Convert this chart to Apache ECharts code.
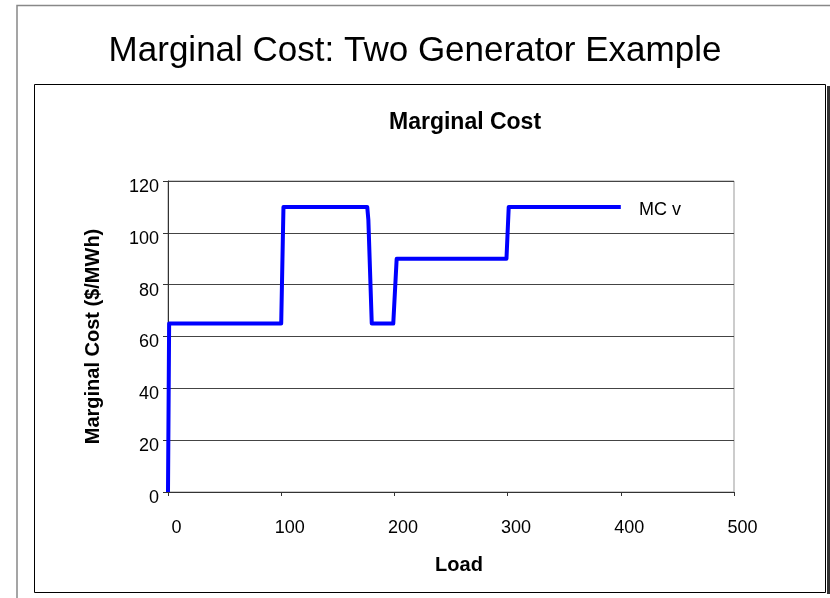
<!DOCTYPE html>
<html>
<head>
<meta charset="utf-8">
<script src="https://cdn.jsdelivr.net/npm/echarts@6/dist/echarts.min.js"></script>
<style>
  html, body { margin: 0; padding: 0; background: #fff; }
  #chart { width: 830px; height: 598px; }
</style>
</head>
<body>
<div id="chart"></div>
<script>
// load (MW) and marginal cost ($/MWh)
var loadPts = [0, 1, 100, 102, 176, 177, 180, 199, 202, 299, 301, 400];
var mcPts   = [0, 65, 65, 110, 110, 105, 65, 65, 90, 90, 110, 110];
var yTicks = [0, 20, 40, 60, 80, 100, 120];
var xTicks = [0, 100, 200, 300, 400, 500];

var font = 'Liberation Sans, Arial, sans-serif';

var seriesData = [];
for (var i = 0; i < loadPts.length; i++) {
    seriesData.push([loadPts[i], mcPts[i]]);
}

var chart = echarts.init(document.getElementById('chart'), null, { renderer: 'canvas' });

chart.setOption({
    animation: false,
    backgroundColor: '#fff',
    textStyle: { fontFamily: font },
    title: [{
        text: 'Marginal Cost: Two Generator Example',
        left: 'center',
        top: 29,
        textStyle: { fontFamily: font, fontSize: 35, fontWeight: 'normal', color: '#000' }
    }, {
        text: 'Marginal Cost',
        left: 384,
        top: 106,
        textStyle: { fontFamily: font, fontSize: 23, fontWeight: 'bold', color: '#000' }
    }],
    graphic: [
        // outer slide frame
        { type: 'polyline', silent: true, shape: { points: [[17, 598], [17, 5.5], [830, 5.5]] },
          style: { stroke: '#888', lineWidth: 1.5, fill: null } },
        // chart area box with shadow on right / bottom
        { type: 'rect', silent: true, shape: { x: 827, y: 86, width: 3, height: 508 },
          style: { fill: '#333' } },
        { type: 'rect', silent: true, shape: { x: 34.5, y: 84.5, width: 791, height: 508 },
          style: { fill: null, stroke: '#000', lineWidth: 1 } }
    ],
    legend: {
        left: 629,
        top: 196,
        itemWidth: 0,
        itemHeight: 0,
        icon: 'rect',
        textStyle: { fontFamily: font, fontSize: 18, color: '#000' },
        data: ['MC v']
    },
    grid: {
        left: 168,
        top: 181,
        right: 96,
        bottom: 106,
        show: true,
        borderColor: '#999',
        borderWidth: 1
    },
    xAxis: {
        type: 'value',
        min: 0,
        max: 500,
        interval: 100,
        name: 'Load',
        nameLocation: 'middle',
        nameGap: 63,
        nameTextStyle: { fontFamily: font, fontSize: 20, fontWeight: 'bold', color: '#000', padding: [0, 0, 0, 16] },
        axisLine: { show: true, lineStyle: { color: '#333', width: 1 } },
        axisTick: { show: true, length: 4, lineStyle: { color: '#333' } },
        axisLabel: {
            margin: 27,
            fontSize: 18,
            fontFamily: font,
            color: '#000',
            padding: [0, 0, 0, 17],
            formatter: function (v) { return xTicks.indexOf(v) >= 0 ? String(v) : ''; }
        },
        splitLine: { show: false }
    },
    yAxis: {
        type: 'value',
        min: 0,
        max: 120,
        interval: 20,
        name: 'Marginal Cost ($/MWh)',
        nameLocation: 'middle',
        nameGap: 65,
        nameTextStyle: { fontFamily: font, fontSize: 20, fontWeight: 'bold', color: '#000' },
        axisLine: { show: true, lineStyle: { color: '#333', width: 1 } },
        axisTick: { show: true, length: 5, lineStyle: { color: '#333' } },
        axisLabel: {
            margin: 9,
            fontSize: 18,
            fontFamily: font,
            color: '#000',
            verticalAlign: 'top',
            lineHeight: 12,
            formatter: function (v) { return yTicks.indexOf(v) >= 0 ? String(v) : ''; }
        },
        splitLine: { show: true, lineStyle: { color: '#444', width: 1 } }
    },
    series: [{
        name: 'MC v',
        type: 'line',
        data: seriesData,
        showSymbol: false,
        symbol: 'none',
        lineStyle: { color: '#0000ff', width: 4, join: 'round' },
        itemStyle: { color: '#0000ff' }
    }]
});
</script>
</body>
</html>
